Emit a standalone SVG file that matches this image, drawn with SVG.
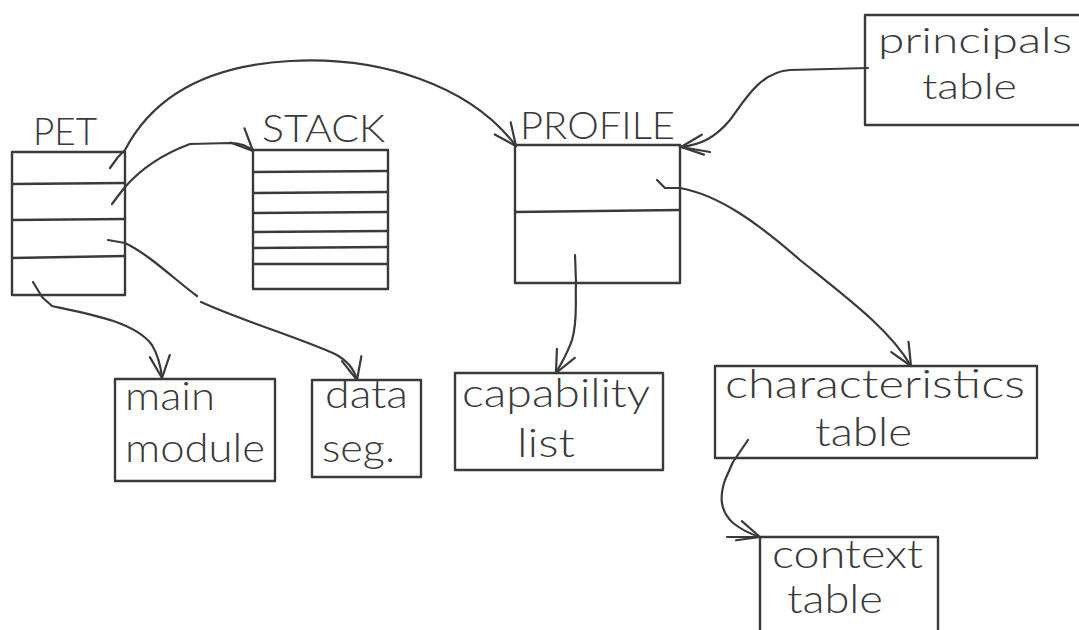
<svg xmlns="http://www.w3.org/2000/svg" width="1079" height="630" viewBox="0 0 1079 630">
<defs>
<marker id="v" markerUnits="userSpaceOnUse" markerWidth="40" markerHeight="40" refX="0" refY="0" viewBox="-20 -20 40 40" orient="auto" overflow="visible">
<path d="M-22,-10 L0,0 L-22,10" fill="none" stroke="#3a3a3a" stroke-width="2.2" stroke-linecap="round" stroke-linejoin="round"/>
</marker>
</defs>
<style>
.box{fill:none;stroke:#3a3a3a;stroke-width:2.4;stroke-linejoin:round}
.div{stroke:#3a3a3a;stroke-width:2.4}
.t{font-family:Lato,"DejaVu Sans","Liberation Sans",sans-serif;font-weight:300;font-size:40px;fill:#3a3a3a}
.u{font-size:38px}
.s{font-size:36px}
.c{fill:none;stroke:#3a3a3a;stroke-width:2.2;stroke-linecap:round;stroke-linejoin:round}
</style>
<rect width="1079" height="630" fill="#ffffff"/>

<g id="pet">
<rect class="box" x="12" y="152" width="113" height="143"/>
<line class="div" x1="12" y1="184" x2="125" y2="183"/>
<line class="div" x1="12" y1="220" x2="125" y2="219"/>
<line class="div" x1="12" y1="258" x2="125" y2="256"/>
<text class="t u" x="33" y="145" textLength="64" lengthAdjust="spacingAndGlyphs">PET</text>
</g>

<g id="stack">
<rect class="box" x="253" y="150" width="135" height="139"/>
<line class="div" x1="253" y1="172" x2="388" y2="171"/>
<line class="div" x1="253" y1="193" x2="388" y2="192"/>
<line class="div" x1="253" y1="213" x2="388" y2="212"/>
<line class="div" x1="253" y1="232" x2="388" y2="231"/>
<line class="div" x1="253" y1="248" x2="388" y2="247"/>
<line class="div" x1="253" y1="264" x2="388" y2="264"/>
<text class="t u" x="262" y="142" textLength="123" lengthAdjust="spacingAndGlyphs">STACK</text>
</g>

<g id="profile">
<rect class="box" x="515" y="145" width="165" height="138"/>
<line class="div" x1="515" y1="212" x2="680" y2="210"/>
<text class="t u" x="520" y="139" textLength="155" lengthAdjust="spacingAndGlyphs">PROFILE</text>
</g>

<g id="principals">
<rect class="box" x="865" y="15" width="230" height="110"/>
<text class="t s" x="878" y="53" textLength="194" lengthAdjust="spacingAndGlyphs">principals</text>
<text class="t s" x="922" y="99" textLength="95" lengthAdjust="spacingAndGlyphs">table</text>
</g>

<g id="main-module">
<rect class="box" x="115" y="379" width="160" height="102"/>
<text class="t" x="125" y="410" textLength="90" lengthAdjust="spacingAndGlyphs">main</text>
<text class="t" x="125" y="462" textLength="140" lengthAdjust="spacingAndGlyphs">module</text>
</g>

<g id="data-seg">
<rect class="box" x="312" y="380" width="109" height="97"/>
<text class="t" x="325" y="408" textLength="83" lengthAdjust="spacingAndGlyphs">data</text>
<text class="t" x="322" y="462" textLength="73" lengthAdjust="spacingAndGlyphs">seg.</text>
</g>

<g id="capability-list">
<rect class="box" x="455" y="373" width="208" height="97"/>
<text class="t" x="462" y="407" textLength="188" lengthAdjust="spacingAndGlyphs">capability</text>
<text class="t" x="517" y="457" textLength="58" lengthAdjust="spacingAndGlyphs">list</text>
</g>

<g id="characteristics-table">
<rect class="box" x="715" y="366" width="322" height="92"/>
<text class="t" x="725" y="398" textLength="300" lengthAdjust="spacingAndGlyphs">characteristics</text>
<text class="t" x="815" y="446" textLength="97" lengthAdjust="spacingAndGlyphs">table</text>
</g>

<g id="context-table">
<path class="box" d="M938,640 L938,537 L760,537 L760,640"/>
<text class="t" x="772" y="568" textLength="151" lengthAdjust="spacingAndGlyphs">context</text>
<text class="t" x="787" y="613" textLength="96" lengthAdjust="spacingAndGlyphs">table</text>
</g>

<g id="connectors">
<path class="c" marker-end="url(#v)" d="M110,168 L118,157 L125,150 C150,102 200,66 290,61 C380,56 470,85 516,146"/>
<path class="c" marker-end="url(#v)" d="M112,204 L118,196 L125,187 C140,170 160,155 190,144 L230,143 C240,143 248,146 253,151"/>
<path class="c" d="M108,240 L125,243 C150,255 175,280 197,296"/>
<path class="c" marker-end="url(#v)" d="M201,302 C240,320 300,338 335,354 C350,362 355,372 357,380"/>
<path class="c" marker-end="url(#v)" d="M33,282 L42,297 L52,306 C90,314 135,322 152,345 C159,357 161,368 162,378"/>
<path class="c" marker-end="url(#v)" d="M868,68 L790,70 C760,72 745,100 730,120 C715,138 700,145 681,147"/>
<path class="c" d="M681,147 L710,152"/>
<path class="c" marker-end="url(#v)" d="M657,180 L665,188 L680,188 C720,195 760,225 800,260 C850,300 890,330 911,366"/>
<path class="c" marker-end="url(#v)" d="M575,255 L576,283 C575,300 578,320 572,340 C567,355 560,365 556,373"/>
<path class="c" marker-end="url(#v)" d="M748,440 L733,462 L725,480 C720,495 719,510 733,523 C742,530 750,534 760,537"/>
<path class="c" d="M727,537 L760,537"/>
</g>
</svg>
